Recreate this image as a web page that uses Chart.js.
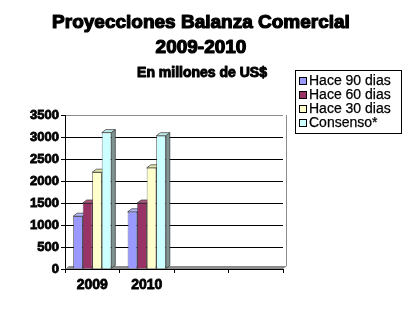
<!DOCTYPE html>
<html><head><meta charset="utf-8">
<script src="https://cdn.jsdelivr.net/npm/chart.js@4/dist/chart.umd.min.js"></script>
<style>html,body{margin:0;padding:0;background:#fff;overflow:hidden;}</style>
</head><body>
<canvas id="c" width="405" height="313"></canvas>
<script>
// ---- data ----
const categories = ['2009', '2010', '', ''];
const seriesNames = ['Hace 90 dias', 'Hace 60 dias', 'Hace 30 dias', 'Consenso*'];
const hace90 = [1200, 1300, null, null];
const hace60 = [1500, 1500, null, null];
const hace30 = [2200, 2300, null, null];
const consenso = [3100, 3030, null, null];
const yMin = 0, yMax = 3500, yStep = 500;
const titleLines = ['Proyecciones Balanza Comercial', '2009-2010'];
const subtitleText = 'En millones de US$';

// ---- styles ----
const fronts = ['#9999FF', '#993366', '#FFFFCC', '#CCFFFF'];
const sides  = ['#6767b0', '#6a2347', '#b0b08c', '#7f9393'];
const tops   = ['#b8b8ff', '#b0587f', '#e6e6b0', '#bfe8e8'];
const FONT = '"Liberation Sans", Arial, sans-serif';
const D = 4, DY = 3;

const titles = {
  id: 'titles',
  afterDraw(chart) {
    const ctx = chart.ctx;
    ctx.save();
    ctx.fillStyle = '#000'; ctx.strokeStyle = '#000'; ctx.lineJoin = 'round';
    ctx.textAlign = 'center'; ctx.textBaseline = 'middle';
    ctx.font = 'bold 19px ' + FONT; ctx.lineWidth = 1.2;
    titleLines.forEach((t, i) => {
      const y = 23 + i * 25;
      ctx.strokeText(t, 201, y); ctx.fillText(t, 201, y);
    });
    ctx.font = 'bold 14px ' + FONT; ctx.lineWidth = 1;
    ctx.strokeText(subtitleText, 202, 73); ctx.fillText(subtitleText, 202, 73);
    ctx.restore();
  }
};

const threeD = {
  id: 'threeD',
  beforeDatasetsDraw(chart) {
    const ctx = chart.ctx, a = chart.chartArea;
    ctx.save();
    ctx.fillStyle = '#8c8c8c';
    ctx.beginPath();
    ctx.moveTo(a.left, a.bottom);
    ctx.lineTo(a.left + D, a.bottom - DY);
    ctx.lineTo(a.right + D, a.bottom - DY);
    ctx.lineTo(a.right, a.bottom);
    ctx.closePath(); ctx.fill();
    ctx.strokeStyle = '#8c8c8c'; ctx.lineWidth = 1;
    ctx.beginPath();
    ctx.moveTo(a.right + D - 0.5, a.top);
    ctx.lineTo(a.right + D - 0.5, a.bottom - DY);
    ctx.stroke();
    chart.data.datasets.forEach((ds, i) => {
      const meta = chart.getDatasetMeta(i);
      meta.data.forEach((el, j) => {
        if (ds.data[j] == null) return;
        const l = el.x - el.width / 2, r = el.x + el.width / 2, y = el.y, b = el.base;
        ctx.fillStyle = sides[i]; ctx.strokeStyle = '#333'; ctx.lineWidth = 0.7;
        ctx.beginPath();
        ctx.moveTo(r, y); ctx.lineTo(r + D, y - DY); ctx.lineTo(r + D, b - DY); ctx.lineTo(r, b);
        ctx.closePath(); ctx.fill(); ctx.stroke();
        ctx.fillStyle = tops[i];
        ctx.beginPath();
        ctx.moveTo(l, y); ctx.lineTo(l + D, y - DY); ctx.lineTo(r + D, y - DY); ctx.lineTo(r, y);
        ctx.closePath(); ctx.fill(); ctx.stroke();
      });
    });
    ctx.restore();
  }
};

const legendBox = {
  id: 'legendBox',
  afterDraw(chart) {
    const ctx = chart.ctx;
    const x0 = 295.5, y0 = 70.5, w = 106, h = 63;
    ctx.save();
    ctx.fillStyle = '#fff'; ctx.fillRect(x0, y0, w, h);
    ctx.strokeStyle = '#000'; ctx.lineWidth = 1; ctx.strokeRect(x0, y0, w, h);
    ctx.font = '14px ' + FONT; ctx.textBaseline = 'middle'; ctx.textAlign = 'left';
    chart.data.datasets.forEach((ds, i) => {
      const cy = 81 + i * 14;
      ctx.fillStyle = ds.backgroundColor;
      ctx.fillRect(299.5, cy - 3.5, 7, 7);
      ctx.strokeStyle = '#000'; ctx.lineWidth = 1; ctx.strokeRect(299.5, cy - 3.5, 7, 7);
      ctx.fillStyle = '#000'; ctx.lineWidth = 0.25;
      ctx.fillText(ds.label, 309, cy + 0.5);
      ctx.strokeText(ds.label, 309, cy + 0.5);
    });
    ctx.restore();
  }
};

const seriesData = [hace90, hace60, hace30, consenso];
new Chart(document.getElementById('c'), {
  type: 'bar',
  data: {
    labels: categories,
    datasets: seriesNames.map((n, i) => ({
      label: n,
      data: seriesData[i],
      backgroundColor: fronts[i],
      borderColor: '#333',
      borderWidth: 0.7,
      barPercentage: 1,
      categoryPercentage: 0.7
    }))
  },
  options: {
    responsive: false,
    animation: false,
    devicePixelRatio: 1,
    layout: { padding: { left: 0, right: 122, top: 115, bottom: 0 } },
    plugins: {
      legend: { display: false },
      tooltip: { enabled: false },
      title: { display: false },
      subtitle: { display: false }
    },
    scales: {
      x: {
        grid: { offset: true, drawOnChartArea: false, drawTicks: true, tickLength: 4, color: '#000' },
        border: { color: '#000' },
        ticks: { color: '#000', padding: 4, textStrokeColor: '#000', textStrokeWidth: 0.8,
                 font: { family: FONT, size: 14, weight: 'bold' } },
        afterFit(s) { s.height = 44; }
      },
      y: {
        min: yMin, max: yMax,
        grid: { color: ctx => ctx.tick && ctx.tick.value === yMax ? '#8c8c8c' : '#000', tickLength: 4, tickColor: '#000' },
        border: { color: '#000' },
        ticks: { stepSize: yStep, color: '#000', padding: 2, textStrokeColor: '#000', textStrokeWidth: 0.8,
                 callback: v => String(v),
                 font: { family: FONT, size: 13, weight: 'bold' } },
        afterFit(s) { s.width = 65; }
      }
    }
  },
  plugins: [threeD, titles, legendBox]
});
</script>
</body></html>
